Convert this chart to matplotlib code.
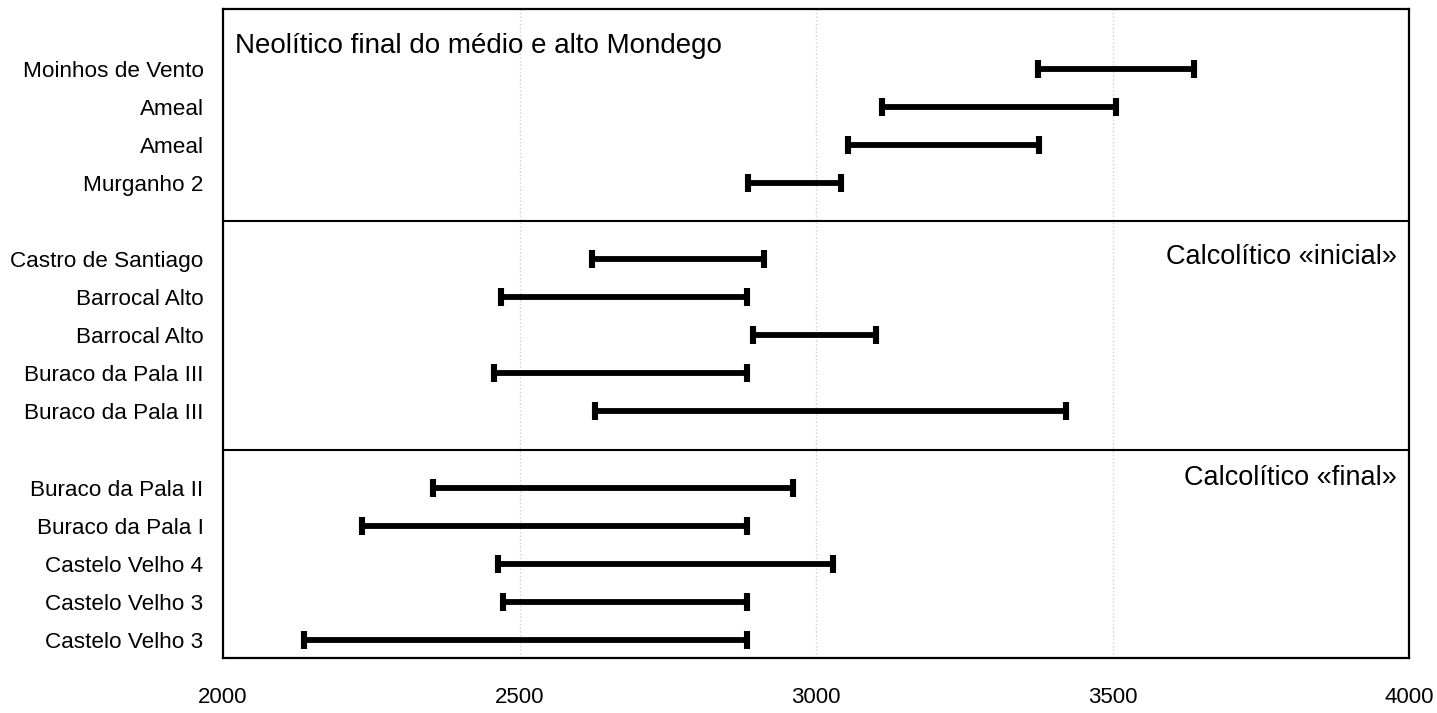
import matplotlib
matplotlib.use("Agg")
import matplotlib.pyplot as plt
import numpy as np

plt.rcParams['font.family'] = ['Liberation Sans', 'DejaVu Sans']

# ---- data ----
panel_titles = ["Neolítico final do médio e alto Mondego",
                "Calcolítico «inicial»",
                "Calcolítico «final»"]
panel_sites = [
    ["Moinhos de Vento", "Ameal", "Ameal", "Murganho 2"],
    ["Castro de Santiago", "Barrocal Alto", "Barrocal Alto",
     "Buraco da Pala III", "Buraco da Pala III"],
    ["Buraco da Pala II", "Buraco da Pala I", "Castelo Velho 4",
     "Castelo Velho 3", "Castelo Velho 3"],
]
panel_start = [
    [3374, 3111, 3054, 2885],
    [2622, 2469, 2894, 2457, 2627],
    [2354, 2234, 2464, 2472, 2137],
]
panel_end = [
    [3637, 3506, 3376, 3042],
    [2912, 2883, 3101, 2883, 3422],
    [2961, 2883, 3029, 2883, 2883],
]
x_ticks = [2000, 2500, 3000, 3500, 4000]

# ---- figure ----
W, H = 1437, 713
fig = plt.figure(figsize=(W / 100, H / 100), dpi=100)
ax = fig.add_axes([223 / W, 1 - 658 / H, (1409 - 223) / W, (658 - 9) / H])

labels, ypos, starts, ends = [], [], [], []
separators = []
k = 1
for p, sites in enumerate(panel_sites):
    for i, s in enumerate(sites):
        labels.append(s)
        ypos.append(k)
        starts.append(panel_start[p][i])
        ends.append(panel_end[p][i])
        k += 1
    if p < len(panel_sites) - 1:
        separators.append(k)
        k += 1

starts = np.array(starts, float)
ends = np.array(ends, float)
mid = (starts + ends) / 2
half = (ends - starts) / 2

for g in x_ticks[1:-1]:
    ax.axvline(g, color='#cfcfcf', lw=1.0, ls=':', zorder=0)

ax.errorbar(mid, ypos, xerr=half, fmt='none', ecolor='black',
            elinewidth=4.2, capsize=6.4, capthick=4.4, zorder=3)

for s in separators:
    ax.axhline(s, color='black', lw=1.5, zorder=2)

ax.set_xlim(2000, 4000)
ax.set_ylim(16.47, -0.564)
ax.set_xticks(x_ticks)
ax.set_xticklabels([str(t) for t in x_ticks], fontsize=16)
ax.set_yticks(ypos)
ax.set_yticklabels(labels, fontsize=16.2)
ax.tick_params(axis='x', length=0, pad=21)
ax.tick_params(axis='y', length=0, pad=14)
for sp in ax.spines.values():
    sp.set_linewidth(1.6)
    sp.set_color('black')

# panel titles
ax.text(2020, 0.4, panel_titles[0], fontsize=20, ha='left', va='center')
ax.text(3980, separators[0] + 0.95, panel_titles[1], fontsize=19.5,
        ha='right', va='center')
ax.text(3980, separators[1] + 0.75, panel_titles[2], fontsize=19.5,
        ha='right', va='center')

fig.savefig("out.png", dpi=100)
